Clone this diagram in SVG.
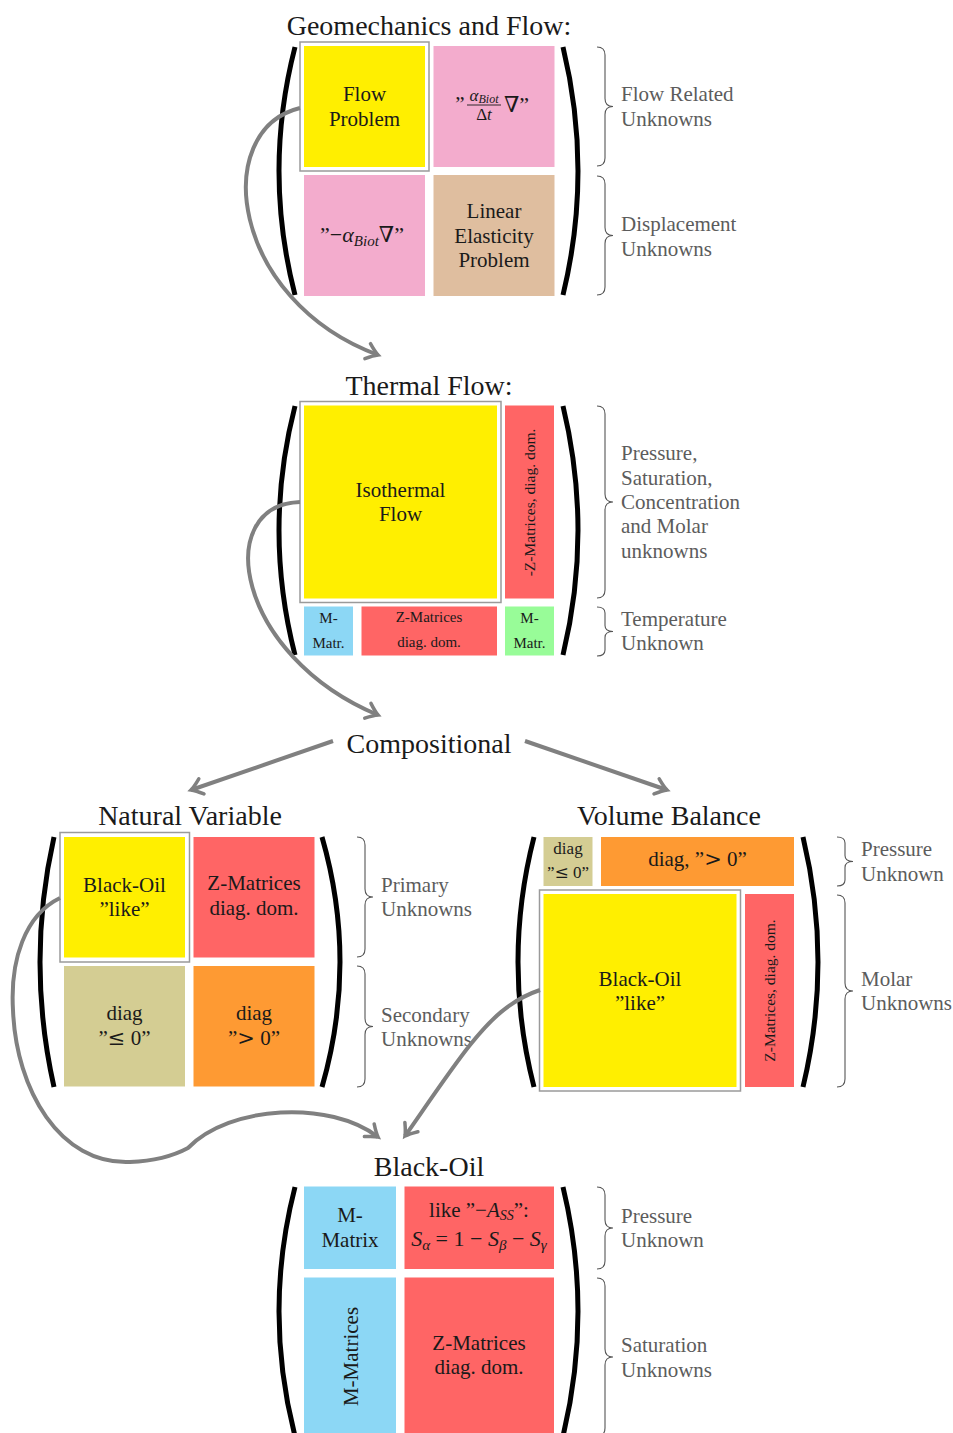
<svg xmlns="http://www.w3.org/2000/svg" width="953" height="1433" viewBox="0 0 953 1433">
<style>
text{font-family:"Liberation Serif","DejaVu Serif",serif;fill:#1a1a1a}
.title{font-size:28px;text-anchor:middle}
.bx{font-size:21px;text-anchor:middle}
.sm{font-size:15px;text-anchor:middle}
.lbl{font-size:21px;fill:#5c5c5c}
.i{font-style:italic}
.op{font-family:"DejaVu Serif",serif}
.paren{fill:none;stroke:#000;stroke-width:5}
.brace{fill:none;stroke:#555;stroke-width:1.1}
.frame{fill:#fff;stroke:#9a9a9a;stroke-width:1.5}
.conn{fill:none;stroke:#808080;stroke-width:4}
.yel{fill:#FFEF00}.pink{fill:#F3ACCD}.tan{fill:#DFBE9F}.red{fill:#FF6565}
.blue{fill:#8CD7F5}.green{fill:#98FC98}.khaki{fill:#D4CD93}.orange{fill:#FE9A33}
</style>
<defs>
<marker id="ah" markerUnits="userSpaceOnUse" markerWidth="24" markerHeight="24" viewBox="-14 -12 16 24" refX="0" refY="0" orient="auto" overflow="visible">
<path d="M-11,-8 Q-4,-2 0,0 Q-4,2 -11,8" fill="none" stroke="#808080" stroke-width="3.5" stroke-linecap="round"/>
</marker>
</defs>

<!-- Section 1: Geomechanics and Flow -->
<g id="geomech">
<text class="title" x="429" y="35">Geomechanics and Flow:</text>
<path class="paren" d="M295,47 Q263,171 295,295"/>
<path class="paren" d="M563,47 Q593,171 563,295"/>
<g id="flow-problem">
<rect class="frame" x="300" y="42" width="129" height="129"/>
<rect class="yel" x="304" y="46" width="121" height="121"/>
<text class="bx" x="364.5" y="101">Flow</text>
<text class="bx" x="364.5" y="126">Problem</text>
</g>
<g id="coupling-top">
<rect class="pink" x="433.5" y="46" width="121" height="121"/>
<text x="460" y="111" style="font-size:21px;text-anchor:middle">”</text>
<text x="484" y="101" style="font-size:17px;text-anchor:middle"><tspan class="i">α</tspan><tspan class="i" style="font-size:12px" dy="2">Biot</tspan></text>
<line x1="467" y1="105" x2="501" y2="105" stroke="#1a1a1a" stroke-width="0.9"/>
<text x="484" y="120" style="font-size:17px;text-anchor:middle">Δ<tspan class="i">t</tspan></text>
<text x="504" y="112" style="font-size:22px">∇”</text>
</g>
<g id="coupling-bottom">
<rect class="pink" x="304" y="175" width="121" height="121"/>
<text x="362" y="242" style="font-size:22px;text-anchor:middle">”−<tspan class="i">α</tspan><tspan class="i" style="font-size:15px" dy="4">Biot</tspan><tspan dy="-4">∇”</tspan></text>
</g>
<g id="linear-elasticity">
<rect class="tan" x="433.5" y="175" width="121" height="121"/>
<text class="bx" x="494" y="217.5">Linear</text>
<text class="bx" x="494" y="242.5">Elasticity</text>
<text class="bx" x="494" y="266.5">Problem</text>
</g>
<path class="brace" d="M597,47 Q605,47 605,55 L605,98.5 Q605,106.5 613,106.5 Q605,106.5 605,114.5 L605,158 Q605,166 597,166"/>
<path class="brace" d="M597,176 Q605,176 605,184 L605,227.5 Q605,235.5 613,235.5 Q605,235.5 605,243.5 L605,287 Q605,295 597,295"/>
<text class="lbl" x="621" y="101">Flow Related</text>
<text class="lbl" x="621" y="126">Unknowns</text>
<text class="lbl" x="621" y="231">Displacement</text>
<text class="lbl" x="621" y="255.5">Unknowns</text>
</g>

<!-- Section 2: Thermal Flow -->
<g id="thermal">
<text class="title" x="429" y="395">Thermal Flow:</text>
<path class="paren" d="M295,406 Q263,530.5 295,655"/>
<path class="paren" d="M563,406 Q593,530.5 563,655"/>
<g id="isothermal-flow">
<rect class="frame" x="300" y="401.5" width="201" height="201"/>
<rect class="yel" x="304" y="405.5" width="193" height="193"/>
<text class="bx" x="400.5" y="497">Isothermal</text>
<text class="bx" x="400.5" y="521">Flow</text>
</g>
<g id="thermal-z-col">
<rect class="red" x="505" y="405.5" width="49" height="193"/>
<text transform="translate(535,502.5) rotate(-90)" style="font-size:15.5px;text-anchor:middle">-Z-Matrices, diag. dom.</text>
</g>
<g id="thermal-m1">
<rect class="blue" x="304" y="606.5" width="49" height="49"/>
<text class="sm" x="328.5" y="623">M-</text>
<text class="sm" x="328.5" y="647.5">Matr.</text>
</g>
<g id="thermal-z-row">
<rect class="red" x="361.5" y="606.5" width="135.5" height="49"/>
<text class="sm" x="429" y="622">Z-Matrices</text>
<text class="sm" x="429" y="646.5">diag. dom.</text>
</g>
<g id="thermal-m2">
<rect class="green" x="505" y="606.5" width="49" height="49"/>
<text class="sm" x="529.5" y="623">M-</text>
<text class="sm" x="529.5" y="647.5">Matr.</text>
</g>
<path class="brace" d="M597,406 Q605,406 605,414 L605,494 Q605,502 613,502 Q605,502 605,510 L605,590 Q605,598 597,598"/>
<path class="brace" d="M597,607 Q605,607 605,613 L605,625.5 Q605,631.5 613,631.5 Q605,631.5 605,637.5 L605,650 Q605,656 597,656"/>
<text class="lbl" x="621" y="460">Pressure,</text>
<text class="lbl" x="621" y="484.5">Saturation,</text>
<text class="lbl" x="621" y="508.5">Concentration</text>
<text class="lbl" x="621" y="533">and Molar</text>
<text class="lbl" x="621" y="557.5">unknowns</text>
<text class="lbl" x="621" y="626">Temperature</text>
<text class="lbl" x="621" y="650">Unknown</text>
</g>

<!-- Section 3: Compositional -->
<g id="compositional">
<text class="title" x="429" y="753">Compositional</text>
</g>

<!-- Section 4: Natural Variable -->
<g id="natural-variable">
<text class="title" x="190" y="825">Natural Variable</text>
<path class="paren" d="M54,837 Q26,962 54,1087"/>
<path class="paren" d="M322,837 Q358,962 322,1087"/>
<g id="nv-blackoil">
<rect class="frame" x="60" y="832.5" width="129.5" height="129.5"/>
<rect class="yel" x="64" y="837" width="121" height="120.5"/>
<text class="bx" x="124.5" y="892">Black-Oil</text>
<text class="bx" x="124.5" y="916">”like”</text>
</g>
<g id="nv-z">
<rect class="red" x="193.5" y="837" width="121" height="120.5"/>
<text class="bx" x="254" y="890">Z-Matrices</text>
<text class="bx" x="254" y="914.5">diag. dom.</text>
</g>
<g id="nv-diag-le">
<rect class="khaki" x="64" y="966" width="121" height="120.5"/>
<text class="bx" x="124.5" y="1020">diag</text>
<text class="bx" x="124.5" y="1045">”<tspan class="op">≤</tspan> 0”</text>
</g>
<g id="nv-diag-gt">
<rect class="orange" x="193.5" y="966" width="121" height="120.5"/>
<text class="bx" x="254" y="1020">diag</text>
<text class="bx" x="254" y="1045">”<tspan class="op">&gt;</tspan> 0”</text>
</g>
<path class="brace" d="M357,837 Q365,837 365,845 L365,889 Q365,897 373,897 Q365,897 365,905 L365,949 Q365,957 357,957"/>
<path class="brace" d="M357,966 Q365,966 365,974 L365,1018.5 Q365,1026.5 373,1026.5 Q365,1026.5 365,1034.5 L365,1079 Q365,1087 357,1087"/>
<text class="lbl" x="381" y="892">Primary</text>
<text class="lbl" x="381" y="916">Unknowns</text>
<text class="lbl" x="381" y="1022">Secondary</text>
<text class="lbl" x="381" y="1046">Unknowns</text>
</g>

<!-- Section 5: Volume Balance -->
<g id="volume-balance">
<text class="title" x="669" y="825">Volume Balance</text>
<path class="paren" d="M534,837 Q502,962 534,1087"/>
<path class="paren" d="M803,837 Q833,962 803,1087"/>
<g id="vb-diag-le">
<rect class="khaki" x="543.5" y="837" width="49" height="49"/>
<text x="568" y="854" style="font-size:17px;text-anchor:middle">diag</text>
<text x="568" y="878" style="font-size:17px;text-anchor:middle">”<tspan class="op">≤</tspan> 0”</text>
</g>
<g id="vb-diag-gt">
<rect class="orange" x="601" y="837" width="193" height="49"/>
<text class="bx" x="697.5" y="866">diag, ”<tspan class="op">&gt;</tspan> 0”</text>
</g>
<g id="vb-blackoil">
<rect class="frame" x="539.5" y="890" width="201" height="201"/>
<rect class="yel" x="543.5" y="894" width="193" height="193"/>
<text class="bx" x="640" y="986">Black-Oil</text>
<text class="bx" x="640" y="1009.5">”like”</text>
</g>
<g id="vb-z">
<rect class="red" x="745" y="894" width="49" height="193"/>
<text transform="translate(775,990.5) rotate(-90)" style="font-size:15.5px;text-anchor:middle">Z-Matrices, diag. dom.</text>
</g>
<path class="brace" d="M837,837 Q845,837 845,843 L845,855.5 Q845,861.5 853,861.5 Q845,861.5 845,867.5 L845,880 Q845,886 837,886"/>
<path class="brace" d="M837,895 Q845,895 845,903 L845,983 Q845,991 853,991 Q845,991 845,999 L845,1079 Q845,1087 837,1087"/>
<text class="lbl" x="861" y="856">Pressure</text>
<text class="lbl" x="861" y="881">Unknown</text>
<text class="lbl" x="861" y="985.5">Molar</text>
<text class="lbl" x="861" y="1009.5">Unknowns</text>
</g>

<!-- Section 6: Black-Oil -->
<g id="black-oil">
<text class="title" x="429" y="1176">Black-Oil</text>
<path class="paren" d="M295,1187 Q263,1311.5 295,1436"/>
<path class="paren" d="M563,1187 Q593,1311.5 563,1436"/>
<g id="bo-m">
<rect class="blue" x="304" y="1186.5" width="92" height="82.5"/>
<text class="bx" x="350" y="1222">M-</text>
<text class="bx" x="350" y="1246.5">Matrix</text>
</g>
<g id="bo-ass">
<rect class="red" x="404.5" y="1186.5" width="149.5" height="82.5"/>
<text x="479" y="1217" style="font-size:21px;text-anchor:middle">like ”−<tspan class="i">A</tspan><tspan class="i" style="font-size:14px" dy="3">SS</tspan><tspan dy="-3">”:</tspan></text>
<text x="479" y="1246" style="font-size:22px;text-anchor:middle"><tspan class="i">S</tspan><tspan class="i" style="font-size:15px" dy="4">α</tspan><tspan dy="-4"> = 1 − </tspan><tspan class="i">S</tspan><tspan class="i" style="font-size:15px" dy="4">β</tspan><tspan dy="-4"> − </tspan><tspan class="i">S</tspan><tspan class="i" style="font-size:15px" dy="4">γ</tspan></text>
</g>
<g id="bo-mm">
<rect class="blue" x="304" y="1277.5" width="92" height="160"/>
<text transform="translate(358,1356.5) rotate(-90)" style="font-size:21px;text-anchor:middle">M-Matrices</text>
</g>
<g id="bo-z">
<rect class="red" x="404.5" y="1277.5" width="149.5" height="160"/>
<text class="bx" x="479" y="1349.5">Z-Matrices</text>
<text class="bx" x="479" y="1373.5">diag. dom.</text>
</g>
<path class="brace" d="M597,1187 Q605,1187 605,1195 L605,1220 Q605,1228 613,1228 Q605,1228 605,1236 L605,1261 Q605,1269 597,1269"/>
<path class="brace" d="M597,1278 Q605,1278 605,1286 L605,1349 Q605,1357 613,1357 Q605,1357 605,1365 L605,1428 Q605,1436 597,1436"/>
<text class="lbl" x="621" y="1223">Pressure</text>
<text class="lbl" x="621" y="1247">Unknown</text>
<text class="lbl" x="621" y="1352">Saturation</text>
<text class="lbl" x="621" y="1377">Unknowns</text>
</g>

<!-- Connectors -->
<g id="connectors">
<path class="conn" marker-end="url(#ah)" d="M300,108 C210,130 230,300 378,355"/>
<path class="conn" marker-end="url(#ah)" d="M300,502 C212,505 235,655 378,715"/>
<path class="conn" marker-end="url(#ah)" d="M333,741 L191,790"/>
<path class="conn" marker-end="url(#ah)" d="M525,741 L667,790"/>
<path class="conn" marker-end="url(#ah)" d="M60,898 C25,915 10,960 13,1010 C16,1090 60,1165 130,1162 C155,1161 175,1155 188,1148 C230,1105 330,1100 378,1137"/>
<path class="conn" marker-end="url(#ah)" d="M540,990 C510,1000 490,1020 470,1045 C450,1070 420,1115 405,1136"/>
</g>
</svg>
